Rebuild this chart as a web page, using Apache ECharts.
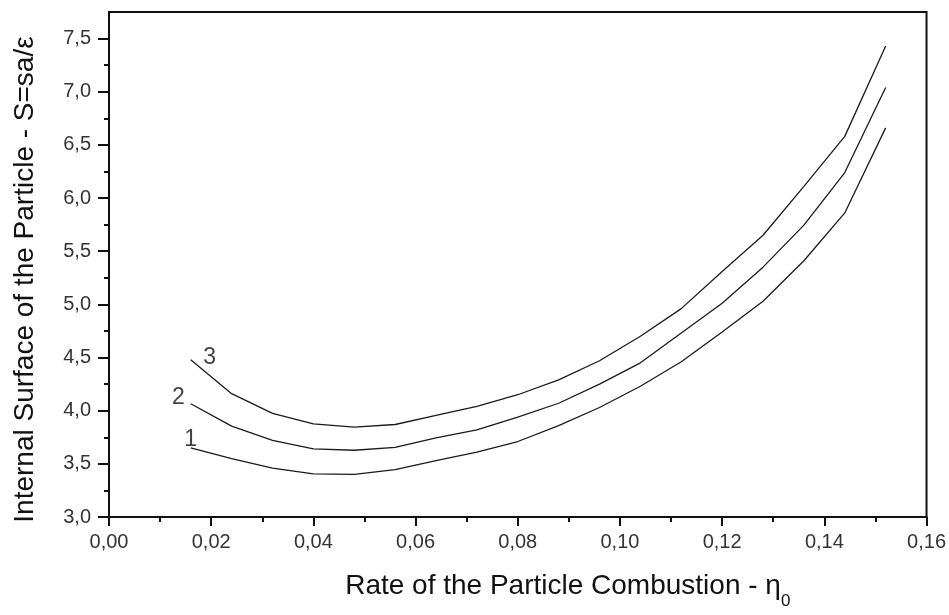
<!DOCTYPE html>
<html>
<head>
<meta charset="utf-8">
<script src="https://cdn.jsdelivr.net/npm/echarts@6/dist/echarts.min.js"></script>
<style>
  html, body { margin: 0; padding: 0; background: #fff; }
  #chart { width: 949px; height: 615px; }
</style>
</head>
<body>
<div id="chart"></div>
<script>
// eta_0 values where the curves are computed
var etaValues = [0.016, 0.024, 0.032, 0.040, 0.048, 0.056, 0.064, 0.072, 0.080,
                 0.088, 0.096, 0.104, 0.112, 0.120, 0.128, 0.136, 0.144, 0.152]
// internal surface S for curves 1, 2, 3
var curve1 = [3.65, 3.55, 3.46, 3.405, 3.40, 3.445, 3.53, 3.61, 3.71,
              3.86, 4.03, 4.23, 4.46, 4.74, 5.03, 5.41, 5.86, 6.66]
var curve2 = [4.065, 3.855, 3.72, 3.64, 3.628, 3.655, 3.745, 3.82, 3.94,
              4.07, 4.25, 4.45, 4.73, 5.01, 5.35, 5.745, 6.24, 7.04]
var curve3 = [4.48, 4.16, 3.975, 3.875, 3.845, 3.87, 3.955, 4.04, 4.15,
              4.29, 4.47, 4.70, 4.96, 5.31, 5.65, 6.11, 6.58, 7.43]
// y ticks (axis runs up to 7.75, labels stop at 7.5)
var yMajorTicks = [3.0, 3.5, 4.0, 4.5, 5.0, 5.5, 6.0, 6.5, 7.0, 7.5]
var yMinorTicks = [3.25, 3.75, 4.25, 4.75, 5.25, 5.75, 6.25, 6.75, 7.25]
// curve number labels: [eta, S, text]
var curveLabels = [[0.0160, 3.725, '1'], [0.0136, 4.12, '2'], [0.0197, 4.50, '3']]

var font = 'Liberation Sans, Arial, sans-serif'

function pairs(ys) {
  return etaValues.map((x, i) => [x, ys[i]])
}
function curve(name, ys) {
  return {
    name: name,
    type: 'line',
    data: pairs(ys),
    symbol: 'none',
    lineStyle: { color: '#1a1a1a', width: 1.3 },
    silent: true
  }
}
var tickStyle = { color: '#111', width: 2 }

var mychart = echarts.init(document.getElementById('chart'))
mychart.setOption({
  animation: false,
  backgroundColor: '#fff',
  grid: {
    left: 109, right: 21, top: 12, bottom: 85,
    show: true, borderColor: '#111', borderWidth: 2
  },
  xAxis: {
    type: 'value',
    min: 0, max: 0.16, interval: 0.02,
    name: '{a|Rate of the Particle Combustion - η}{s|0}',
    nameLocation: 'middle',
    nameGap: 55,
    nameTextStyle: {
      padding: [0, 0, 0, 100],
      rich: {
        a: { fontFamily: font, fontSize: 28, color: '#111' },
        s: { fontFamily: font, fontSize: 17, color: '#111', verticalAlign: 'bottom', padding: [0, 0, -10, 0] }
      }
    },
    axisLine: { onZero: false, lineStyle: { color: '#111', width: 2 } },
    axisTick: { inside: false, length: 9, lineStyle: tickStyle },
    minorTick: { show: true, splitNumber: 2, length: 5, lineStyle: tickStyle },
    splitLine: { show: false },
    axisLabel: {
      margin: 15, fontFamily: font, fontSize: 20, color: '#333',
      formatter: v => v.toFixed(2).replace('.', ',')
    }
  },
  yAxis: [{
    type: 'value',
    min: 3, max: 7.75,
    name: 'Internal Surface of the Particle - S=sa/ε',
    nameLocation: 'middle',
    nameGap: 70,
    nameTextStyle: { fontFamily: font, fontSize: 28, color: '#111', padding: [0, 0, 0, -30] },
    axisLine: { onZero: false, lineStyle: { color: '#111', width: 2 } },
    axisTick: { inside: false, length: 11, customValues: yMajorTicks, lineStyle: tickStyle },
    splitLine: { show: false },
    axisLabel: {
      margin: 18, fontFamily: font, fontSize: 20, color: '#333',
      customValues: yMajorTicks,
      formatter: v => v.toFixed(1).replace('.', ',')
    }
  }, {
    type: 'value',
    min: 3, max: 7.75,
    position: 'left',
    axisLine: { show: false },
    axisTick: { show: true, inside: false, length: 5, customValues: yMinorTicks, lineStyle: tickStyle },
    axisLabel: { show: false },
    splitLine: { show: false }
  }],
  series: [
    curve('1', curve1),
    curve('2', curve2),
    curve('3', curve3),
    {
      type: 'scatter',
      symbolSize: 0,
      silent: true,
      data: curveLabels.map(d => ({ value: [d[0], d[1]], name: d[2] })),
      label: {
        show: true, position: 'inside',
        formatter: p => p.name,
        fontFamily: font, fontSize: 23, color: '#111'
      }
    }
  ]
})
</script>
</body>
</html>
